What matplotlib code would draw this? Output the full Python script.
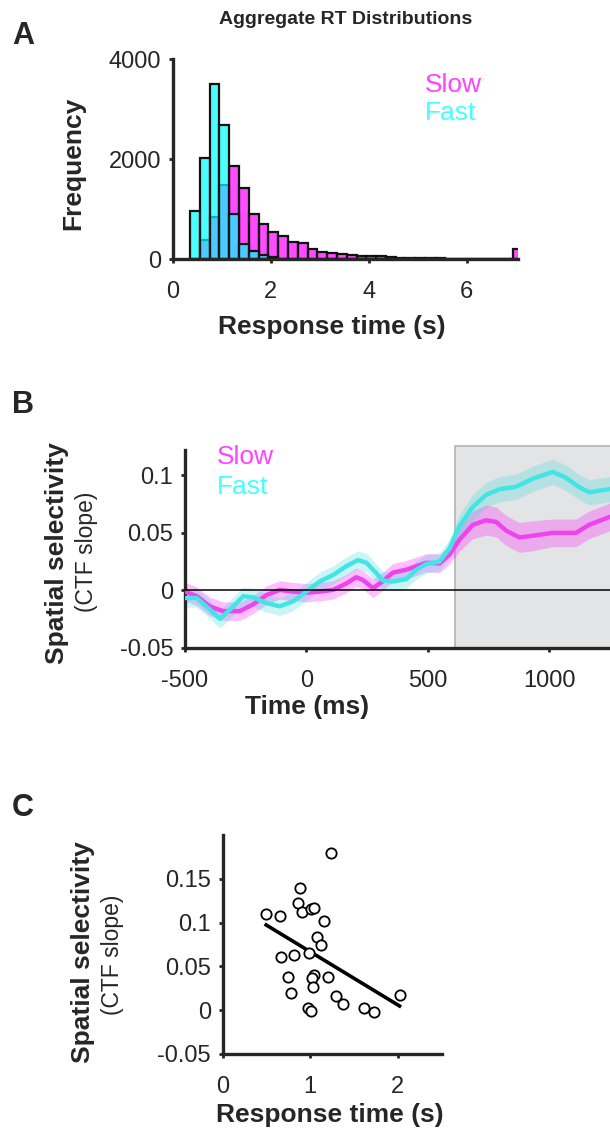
import numpy as np
import matplotlib.pyplot as plt
from matplotlib.patches import Rectangle

plt.rcParams['font.family'] = ['Liberation Sans', 'DejaVu Sans']
TXT = '#262626'
plt.rcParams['text.color'] = TXT
plt.rcParams['xtick.color'] = TXT
plt.rcParams['ytick.color'] = TXT

# --- Panel A: RT histogram (0.2 s bins)
bin_left = np.round(0.35 + 0.2 * np.arange(34), 2)
slow_counts = [0, 387, 833, 1487, 1853, 1420, 907, 707, 533, 467, 340, 320, 207, 140,
               120, 100, 80, 67, 67, 53, 40, 30, 25, 20, 15, 12, 10, 8, 6, 5, 4, 3, 3, 200]
fast_counts = [953, 2020, 3500, 2673, 900, 300, 167, 73, 33, 10] + [0] * 24

# --- Panel B: time course of spatial selectivity
t_slow = [-500, -452, -397, -342, -274, -219, -164, -110, -55, 0, 55, 110, 164, 205, 233, 274,
          315, 356, 411, 452, 493, 548, 589, 630, 685, 740, 781, 822, 877, 932, 1014, 1110,
          1164, 1250]
slow_sel = [-0.001, -0.005, -0.014, -0.018, -0.018, -0.012, -0.004, 0.0005, -0.001, -0.002,
            -0.001, 0.0005, 0.006, 0.0115, 0.009, 0.002, 0.008, 0.0155, 0.018, 0.021, 0.024,
            0.0235, 0.031, 0.044, 0.057, 0.061, 0.0595, 0.052, 0.046, 0.0475, 0.050, 0.050,
            0.057, 0.064]
slow_sem = [0.008] * 23 + [0.010, 0.012, 0.013, 0.013, 0.013, 0.013, 0.013, 0.012, 0.012,
                           0.012, 0.012]
t_fast = [-500, -452, -397, -356, -315, -260, -219, -164, -110, -55, 0, 55, 110, 164, 212, 247,
          288, 315, 356, 411, 452, 493, 548, 589, 630, 685, 740, 795, 863, 932, 1014, 1068,
          1123, 1164, 1250]
fast_sel = [-0.0066, -0.0066, -0.0167, -0.0247, -0.0167, -0.005, -0.006, -0.011, -0.0138,
            -0.0095, -0.001, 0.0078, 0.0135, 0.021, 0.0264, 0.024, 0.015, 0.0086, 0.0078,
            0.0098, 0.0178, 0.023, 0.025, 0.0365, 0.0557, 0.0724, 0.083, 0.088, 0.090, 0.097,
            0.103, 0.098, 0.0897, 0.0853, 0.088]
fast_sem = [0.008] * 24 + [0.010, 0.011, 0.011, 0.011, 0.011, 0.011, 0.011, 0.011, 0.011,
                           0.011, 0.011]
window_start = 612

# --- Panel C: per-subject RT vs selectivity
subj_rt = [0.496, 0.656, 0.885, 0.859, 0.905, 1.008, 1.038, 1.160, 1.240, 1.076, 1.126, 0.664,
           0.809, 0.985, 0.740, 0.779, 1.046, 1.019, 1.027, 1.198, 0.973, 1.008, 1.294, 1.370,
           1.618, 1.725, 2.019]
subj_sel = [0.110, 0.107, 0.140, 0.1225, 0.1126, 0.115, 0.117, 0.1015, 0.180, 0.0832, 0.0748,
            0.0611, 0.063, 0.065, 0.038, 0.0195, 0.0405, 0.0366, 0.0267, 0.038, 0.003, -0.0008,
            0.0164, 0.0076, 0.0023, -0.0015, 0.0172]

MAG = (1.0, 0.0, 1.0)
CYA = (0.0, 1.0, 1.0)
W, H = 610, 1141
fig = plt.figure(figsize=(W / 100, H / 100), dpi=100)


def px_axes(l, r, t, b):
    return fig.add_axes([l / W, 1 - b / H, (r - l) / W, (b - t) / H])


def style(ax):
    for s in ['top', 'right']:
        ax.spines[s].set_visible(False)
    for s in ['left', 'bottom']:
        ax.spines[s].set_linewidth(2.4)
        ax.spines[s].set_color(TXT)
    ax.tick_params(direction='out', length=3, width=2, labelsize=17)
    ax.tick_params(axis='x', pad=12.5)
    ax.tick_params(axis='y', pad=5.5)


# ---------------- A
ax = px_axes(173, 518, 59, 259)
style(ax)
ax.bar(bin_left, slow_counts, width=0.2, align='edge', color=MAG + (0.7,),
       edgecolor='#111111', linewidth=1.6)
ax.bar(bin_left, fast_counts, width=0.2, align='edge', color=CYA + (0.7,),
       edgecolor='#111111', linewidth=1.6)
ax.set_xlim(0, 7.05)
ax.set_ylim(0, 4000)
ax.set_xticks([0, 2, 4, 6])
ax.set_yticks([0, 2000, 4000])
ax.text(0.5, 1.195, 'Aggregate RT Distributions', transform=ax.transAxes, ha='center',
        va='center', fontsize=14, fontweight='bold')
ax.text(-0.29, 0.48, 'Frequency', transform=ax.transAxes, rotation=90, ha='center',
        va='center', fontsize=19, fontweight='bold')
ax.text(0.46, -0.34, 'Response time (s)', transform=ax.transAxes, ha='center', va='center',
        fontsize=19, fontweight='bold')
ax.text(0.73, 0.87, 'Slow', transform=ax.transAxes, va='center', fontsize=19, color='#ff44ff')
ax.text(0.73, 0.73, 'Fast', transform=ax.transAxes, va='center', fontsize=19, color='#44ffff')
fig.text(23 / W, 1 - 36 / H, 'A', ha='center', va='center', fontsize=22, fontweight='bold')

# ---------------- B
ax = px_axes(185, 610, 450, 648)
style(ax)
ax.set_xlim(-500, 1250)
ax.set_ylim(-0.05, 0.122)
ax.add_patch(Rectangle((window_start, -0.05), 1400, 0.1755, facecolor='#e3e4e6',
                       edgecolor='#b4b4b4', linewidth=1.2, zorder=0, clip_on=False))
ax.fill_between(t_slow, np.array(slow_sel) - slow_sem, np.array(slow_sel) + slow_sem,
                color=MAG, alpha=0.25, linewidth=0, zorder=2)
ax.fill_between(t_fast, np.array(fast_sel) - fast_sem, np.array(fast_sel) + fast_sem,
                color=(0.2, 0.85, 0.85), alpha=0.25, linewidth=0, zorder=2)
ax.plot(t_slow, slow_sel, color='#ee44ee', lw=3.2, zorder=3, solid_capstyle='round')
ax.plot(t_fast, fast_sel, color='#44e4e4', lw=3.2, zorder=4, solid_capstyle='round')
ax.axhline(0, color='black', lw=1.1, zorder=5)
ax.set_xticks([-500, 0, 500, 1000])
ax.set_yticks([-0.05, 0, 0.05, 0.1])
ax.set_yticklabels(['-0.05', '0', '0.05', '0.1'])
ax.set_xticklabels(['-500', '0', '500', '1000'])
ax.text(-0.301, 0.48, 'Spatial selectivity', transform=ax.transAxes, rotation=90,
        ha='center', va='center', fontsize=19, fontweight='bold')
ax.text(-0.2306, 0.486, '(CTF slope)', transform=ax.transAxes, rotation=90,
        ha='center', va='center', fontsize=16.5)
ax.text(0.287, -0.30, 'Time (ms)', transform=ax.transAxes, ha='center', va='center',
        fontsize=19, fontweight='bold')
ax.text(0.075, 0.965, 'Slow', transform=ax.transAxes, va='center', fontsize=19,
        color='#ff44ff', zorder=6)
ax.text(0.075, 0.813, 'Fast', transform=ax.transAxes, va='center', fontsize=19,
        color='#44ffff', zorder=6)
fig.text(23 / W, 1 - 405 / H, 'B', ha='center', va='center', fontsize=22, fontweight='bold')

# ---------------- C
ax = px_axes(222.7, 441.7, 835, 1054)
style(ax)
ax.scatter(subj_rt, subj_sel, s=55, facecolors='white', edgecolors='black', linewidths=1.3,
           zorder=3)
slope, icpt = np.polyfit(subj_rt, subj_sel, 1)
xr = np.array([min(subj_rt), max(subj_rt)])
ax.plot(xr, slope * xr + icpt, color='black', lw=2.6, zorder=2)
ax.set_xlim(0, 2.5)
ax.set_ylim(-0.05, 0.2)
ax.set_xticks([0, 1, 2])
ax.set_yticks([-0.05, 0, 0.05, 0.1, 0.15])
ax.set_yticklabels(['-0.05', '0', '0.05', '0.1', '0.15'])
ax.text(-0.638, 0.466, 'Spatial selectivity', transform=ax.transAxes, rotation=90,
        ha='center', va='center', fontsize=19, fontweight='bold')
ax.text(-0.501, 0.452, '(CTF slope)', transform=ax.transAxes, rotation=90,
        ha='center', va='center', fontsize=16.5)
ax.text(0.49, -0.279, 'Response time (s)', transform=ax.transAxes, ha='center', va='center',
        fontsize=19, fontweight='bold')
fig.text(23 / W, 1 - 808 / H, 'C', ha='center', va='center', fontsize=22, fontweight='bold')

fig.savefig('out.png', dpi=100)
